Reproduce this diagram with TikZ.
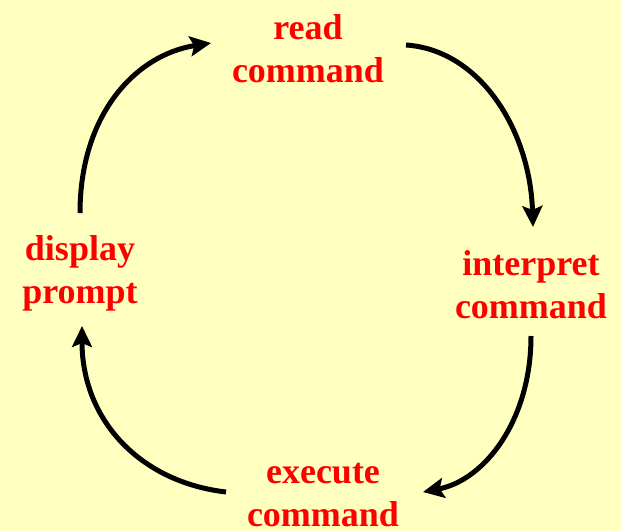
\documentclass[tikz,border=0pt]{standalone}
\usepackage{fontspec}
\setmainfont{Liberation Serif}
\usetikzlibrary{arrows.meta}
\definecolor{bgyellow}{HTML}{FFFFC0}
\definecolor{lblred}{HTML}{FF0000}
\begin{document}
\begin{tikzpicture}[x=1pt,y=-1pt,
  lbl/.style={text=lblred,font=\fontsize{36}{43}\selectfont\bfseries,align=center,inner sep=0pt},
  cyc/.style={line width=5pt,-{Stealth[length=21pt,width=20pt,inset=4pt]}}]
\fill[bgyellow] (0,0) rectangle (621,531);
\useasboundingbox (0,0) rectangle (621,531);
\node[lbl] (read) at (308,49) {read\\command};
\node[lbl] (interp) at (531,285) {interpret\\command};
\node[lbl] (exec) at (323,495) {execute\\command};
\node[lbl] (disp) at (80,273) {display\\prompt};
\coordinate (a1) at (80,213);
\coordinate (a2) at (211,43);
\coordinate (b1) at (406,45);
\coordinate (b2) at (533,227);
\coordinate (c1) at (531,336);
\coordinate (c2) at (423,492);
\coordinate (d1) at (226,492);
\coordinate (d2) at (82,326);
\draw[cyc] (a1) .. controls (80,115) and (135,55) .. (a2);
\draw[cyc] (b1) .. controls (480,50) and (530,130) .. (b2);
\draw[cyc] (c1) .. controls (531,420) and (485,480) .. (c2);
\draw[cyc] (d1) .. controls (140,482) and (82,420) .. (d2);
\end{tikzpicture}
\end{document}
